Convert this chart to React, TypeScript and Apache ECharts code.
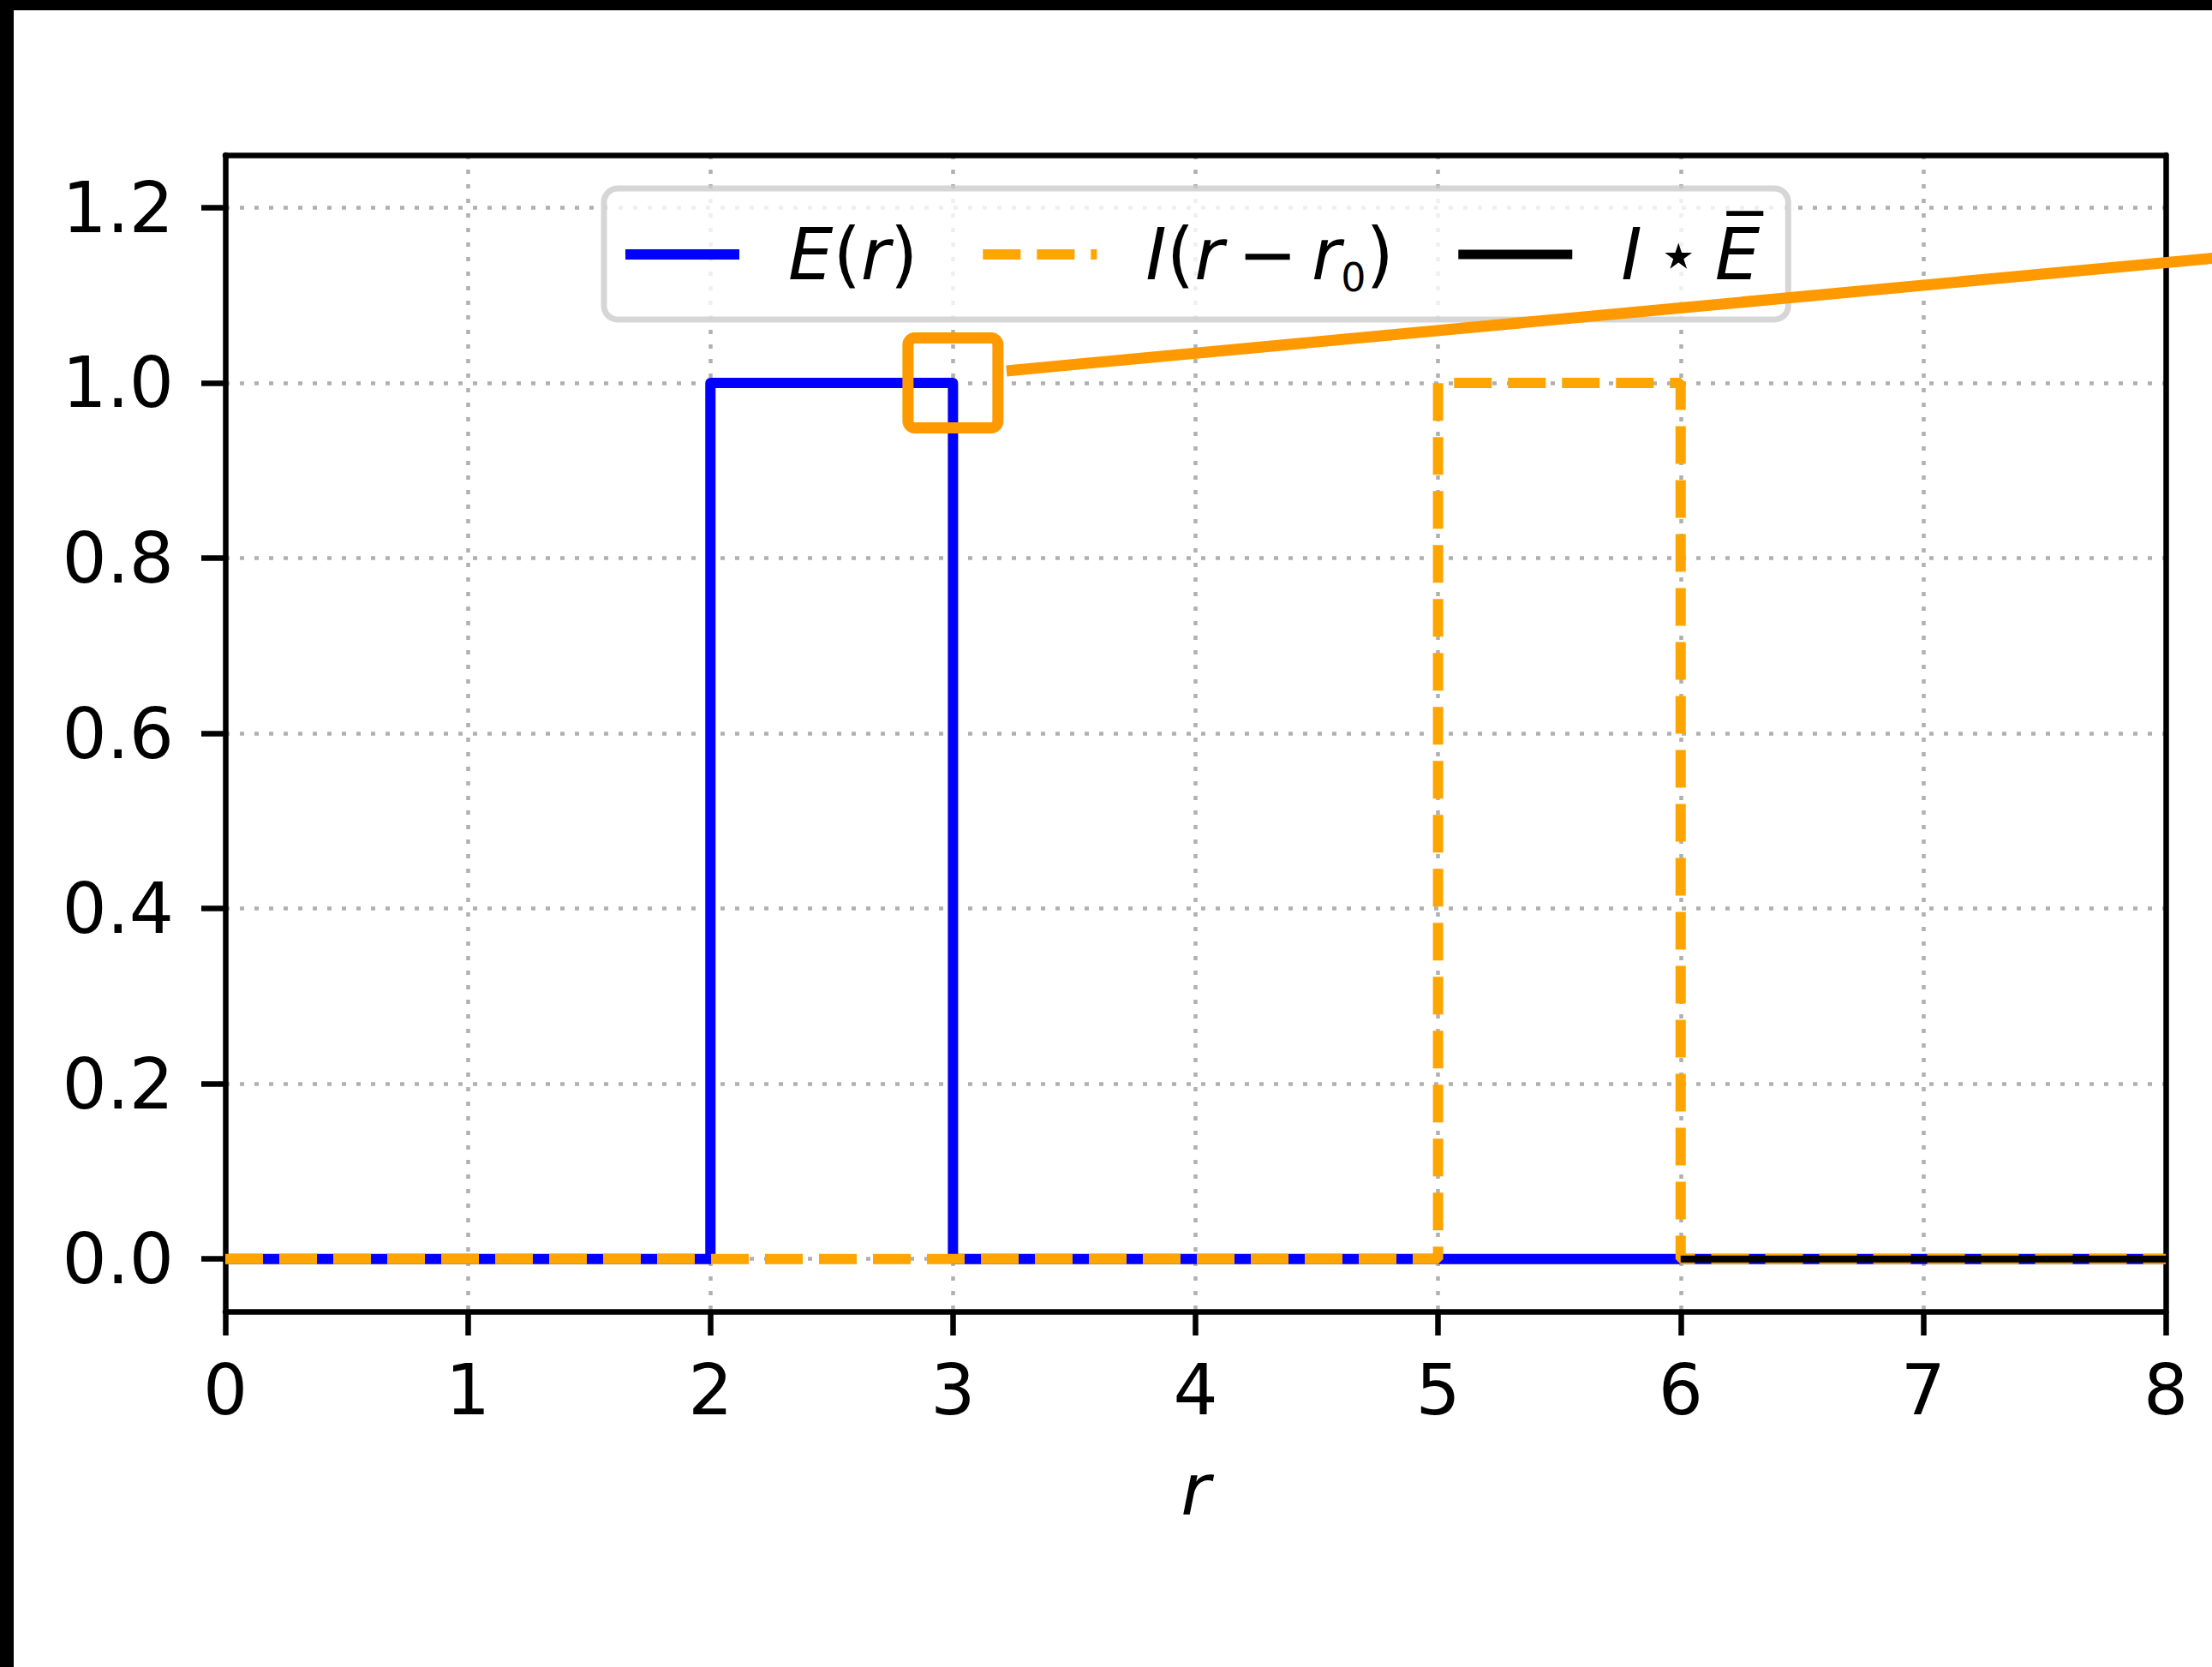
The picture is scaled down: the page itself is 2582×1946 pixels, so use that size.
import React, { useEffect, useRef } from "react";
import * as echarts from "echarts";

// ---- data ----
const E_R = [0, 2, 2, 3, 3, 8];
const E_VAL = [0, 0, 1, 1, 0, 0];
const I_R = [0, 5, 5, 6, 6, 8];
const I_VAL = [0, 0, 1, 1, 0, 0];
const CONV_R = [6, 8];
const CONV_VAL = [0, 0];
const X_RANGE = [0, 8];
const X_INTERVAL = 1;
const Y_RANGE = [-0.06, 1.26];
const Y_TICKS = [0, 0.2, 0.4, 0.6, 0.8, 1.0, 1.2];
const SERIES_NAMES = ["E(r)", "I(r − r0)", "I ⋆ E̅"];
const LEGEND_RICH = [
  "{it|E}{rm|(}{it|r}{rm|)}",
  "{it|I}{rm|(}{it|r}{rm|\u2009−\u2009}{it|r}{sub|0}{rm|)}",
  "{it|I}{rm|\u2009⋆\u2009}{it|E\u0305}",
];
const ZOOM_POINT = [3, 1];

const FONT = "DejaVu Sans";

export default function App() {
  const ref = useRef<HTMLDivElement>(null);
  useEffect(() => {
    if (!ref.current) return;
    const chart = echarts.init(ref.current, undefined, { renderer: "svg" });
    const pairs = (xs: number[], ys: number[]) => xs.map((x, i) => [x, ys[i]]);
    const axisLineStyle = { color: "#000", width: 6.5 };
    const gridLine = { show: true, lineStyle: { color: "#b0b0b0", width: 4.5, type: [5, 12] } };
    const labelStyle = { fontSize: 82, color: "#000", fontFamily: FONT };
    const spineAxis = {
      type: "value",
      axisLine: { show: true, onZero: false, lineStyle: axisLineStyle },
      axisTick: { show: false },
      axisLabel: { show: false },
      splitLine: { show: false },
    };
    const option: any = {
      animation: false,
      backgroundColor: "#fff",
      textStyle: { fontFamily: FONT },
      grid: {
        left: 263,
        top: 181,
        right: 54,
        bottom: 415,
        show: false,
      },
      xAxis: [
        {
          type: "value",
          min: X_RANGE[0],
          max: X_RANGE[1],
          interval: X_INTERVAL,
          name: "r",
          nameLocation: "middle",
          nameGap: 166,
          nameTextStyle: { fontStyle: "italic", fontSize: 84, color: "#000", fontFamily: FONT },
          axisLine: { show: true, onZero: false, lineStyle: axisLineStyle },
          axisTick: { show: true, inside: false, length: 28, lineStyle: axisLineStyle },
          axisLabel: { margin: 50, ...labelStyle },
          splitLine: gridLine,
        },
        { ...spineAxis, position: "top", min: X_RANGE[0], max: X_RANGE[1] },
      ],
      yAxis: [
        {
          type: "value",
          min: Y_RANGE[0],
          max: Y_RANGE[1],
          axisLine: { show: true, onZero: false, lineStyle: axisLineStyle },
          axisTick: { show: true, inside: false, length: 28, lineStyle: axisLineStyle, customValues: Y_TICKS },
          axisLabel: {
            margin: 60,
            customValues: Y_TICKS,
            formatter: (v: number) => v.toFixed(1),
            ...labelStyle,
          },
          splitLine: gridLine,
        },
        { ...spineAxis, position: "right", min: Y_RANGE[0], max: Y_RANGE[1] },
      ],
      legend: {
        left: 705,
        top: 220,
        orient: "horizontal",
        selectedMode: false,
        itemWidth: 133,
        itemHeight: 14,
        itemGap: 70,
        padding: [27, 33, 26, 19],
        backgroundColor: "rgba(255,255,255,0.8)",
        borderColor: "rgba(204,204,204,0.8)",
        borderWidth: 7,
        borderRadius: 16,
        data: [
          { name: SERIES_NAMES[0], itemStyle: { opacity: 0 }, lineStyle: { width: 12 } },
          { name: SERIES_NAMES[1], itemStyle: { opacity: 0 }, lineStyle: { width: 12 } },
          { name: SERIES_NAMES[2], itemStyle: { opacity: 0 }, lineStyle: { width: 11 } },
        ],
        formatter: (name: string) => LEGEND_RICH[SERIES_NAMES.indexOf(name)],
        textStyle: {
          padding: [0, 0, 0, 52],
          lineHeight: 100,
          fontSize: 83,
          color: "#000",
          fontFamily: FONT,
          rich: {
            it: { fontStyle: "italic", fontSize: 83, fontFamily: FONT, color: "#000", lineHeight: 100 },
            rm: { fontSize: 83, fontFamily: FONT, color: "#000", lineHeight: 100 },
            sub: { fontSize: 46, fontFamily: FONT, color: "#000", lineHeight: 50, verticalAlign: "bottom" },
          },
        },
      },
      series: [
        {
          name: SERIES_NAMES[0],
          type: "line",
          data: pairs(E_R, E_VAL),
          symbol: "none",
          lineStyle: { color: "#0000ff", width: 12, join: "round" },
          itemStyle: { color: "#0000ff" },
        },
        {
          name: SERIES_NAMES[1],
          type: "line",
          data: pairs(I_R, I_VAL),
          symbol: "none",
          lineStyle: { color: "#ffa500", width: 12, type: [44, 19], cap: "butt" },
          itemStyle: { color: "#ffa500" },
        },
        {
          name: SERIES_NAMES[2],
          type: "line",
          data: pairs(CONV_R, CONV_VAL),
          symbol: "none",
          lineStyle: { color: "#000000", width: 8 },
          itemStyle: { color: "#000000" },
        },
      ],
    };
    chart.setOption(option);
    const [cx, cy] = chart.convertToPixel({ gridIndex: 0 }, ZOOM_POINT) as number[];
    const half = 52.5;
    const sx = cx + half + 10;
    const sy = cy - 14;
    const ex = 2600;
    const ey = sy - 0.0934 * (ex - sx);
    chart.setOption({
      graphic: [
        { type: "rect", z: 200, shape: { x: 0, y: 0, width: 2582, height: 12 }, style: { fill: "#000" } },
        { type: "rect", z: 200, shape: { x: 0, y: 0, width: 16, height: 1946 }, style: { fill: "#000" } },
        {
          type: "rect",
          z: 150,
          shape: { x: cx - half, y: cy - half, width: 2 * half, height: 2 * half, r: 8 },
          style: { fill: "none", stroke: "#ff9900", lineWidth: 13 },
        },
        {
          type: "line",
          z: 150,
          shape: { x1: sx, y1: sy, x2: ex, y2: ey },
          style: { stroke: "#ff9900", lineWidth: 13 },
        },
      ],
    });
    return () => chart.dispose();
  }, []);
  return (
    <div
      ref={ref}
      style={{ position: "fixed", left: 0, top: 0, width: 2582, height: 1946, background: "#fff" }}
    />
  );
}
